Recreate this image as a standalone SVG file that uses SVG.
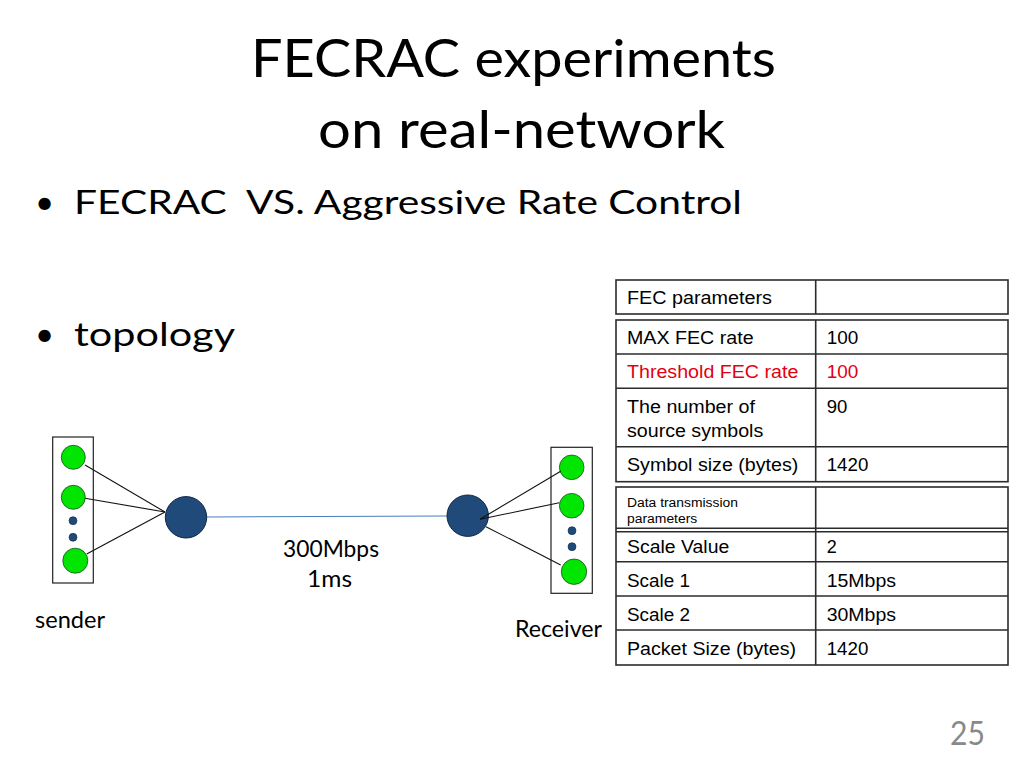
<svg xmlns="http://www.w3.org/2000/svg" width="1024" height="768" viewBox="0 0 1024 768">
<style>
.cal{font-family:Lato,"Open Sans","Liberation Sans",sans-serif;fill:#000}
.tb{font-family:"Liberation Sans",Arial,sans-serif;font-size:17.5px;fill:#000}
.red{fill:#e3000f}
.cell{fill:none;stroke:#2b2b2b;stroke-width:1.6}
.green{fill:#00e600;stroke:#1a4d1a;stroke-width:0.8}
.hub{fill:#1f4a7a;stroke:#0f2745;stroke-width:1}
.dot{fill:#1f4a7a;stroke:#0f2745;stroke-width:0.6}
.wire{stroke:#111;stroke-width:1.1;fill:none}
.box{fill:none;stroke:#222;stroke-width:1.2}
</style>
<rect width="1024" height="768" fill="#fff"/>
<g id="title">
<text class="cal" x="251" y="77" font-size="53" textLength="525" lengthAdjust="spacingAndGlyphs">FECRAC experiments</text>
<text class="cal" x="318" y="148" font-size="53" textLength="407" lengthAdjust="spacingAndGlyphs">on real-network</text>
</g>
<g id="bullets">
<text class="cal" x="35" y="214" font-size="33">•</text>
<text class="cal" x="74" y="214" font-size="33" textLength="668" lengthAdjust="spacingAndGlyphs" xml:space="preserve">FECRAC  VS. Aggressive Rate Control</text>
<text class="cal" x="35" y="346" font-size="33">•</text>
<text class="cal" x="74" y="346" font-size="33" textLength="161" lengthAdjust="spacingAndGlyphs">topology</text>
</g>
<g id="connectors">
<line x1="207" y1="517" x2="447" y2="516" stroke="#4a7ebb" stroke-width="1.1"/>
<line class="wire" x1="85" y1="465" x2="165" y2="512"/>
<line class="wire" x1="85" y1="498.3" x2="165" y2="512"/>
<line class="wire" x1="86.7" y1="554" x2="165" y2="512"/>
</g>
<g id="sender">
<rect class="box" x="52.7" y="437" width="40.6" height="146"/>
<circle class="green" cx="73.3" cy="457.3" r="12"/>
<circle class="green" cx="73.3" cy="497.3" r="12"/>
<circle class="dot" cx="73" cy="520.7" r="4"/>
<circle class="dot" cx="73" cy="537.3" r="4"/>
<circle class="green" cx="75.3" cy="560.7" r="12.5"/>
<text class="cal" x="35" y="628.3" font-size="23" textLength="70" lengthAdjust="spacingAndGlyphs">sender</text>
</g>
<g id="sender-hub">
<circle class="hub" cx="186" cy="517.3" r="20.7"/>
</g>
<g id="receiver-hub">
<circle class="hub" cx="467.7" cy="515.7" r="20.7"/>
</g>
<g id="receiver">
<rect class="box" x="551" y="447.3" width="41.3" height="146"/>
<circle class="green" cx="571.7" cy="467.3" r="12.3"/>
<circle class="green" cx="571.7" cy="505.7" r="12.3"/>
<circle class="dot" cx="572" cy="530.7" r="4"/>
<circle class="dot" cx="572" cy="546.7" r="4"/>
<circle class="green" cx="574" cy="571.7" r="12.7"/>
<text class="cal" x="515" y="637" font-size="23" textLength="87" lengthAdjust="spacingAndGlyphs">Receiver</text>
</g>
<g id="receiver-wires">
<line class="wire" x1="480" y1="519.3" x2="560.7" y2="471.3"/>
<line class="wire" x1="480" y1="519.3" x2="559.3" y2="502.7"/>
<line class="wire" x1="486" y1="526.7" x2="560.7" y2="565"/>
</g>
<g id="link-label">
<text class="cal" x="283" y="557" font-size="23" textLength="96" lengthAdjust="spacingAndGlyphs">300Mbps</text>
<text class="cal" x="307" y="587" font-size="23" textLength="45" lengthAdjust="spacingAndGlyphs">1ms</text>
</g>
<g id="table-fec-header">
<rect class="cell" x="616" y="280" width="392" height="34"/>
<line class="cell" x1="815.7" y1="280" x2="815.7" y2="314"/>
<text class="tb" x="627" y="304.3" textLength="145" lengthAdjust="spacingAndGlyphs">FEC parameters</text>
</g>
<g id="table-fec">
<rect class="cell" x="616" y="320" width="392" height="161.7"/>
<line class="cell" x1="815.7" y1="320" x2="815.7" y2="481.7"/>
<line class="cell" x1="616" y1="354" x2="1008" y2="354"/>
<line class="cell" x1="616" y1="388.3" x2="1008" y2="388.3"/>
<line class="cell" x1="616" y1="446.7" x2="1008" y2="446.7"/>
<text class="tb" x="627" y="344" textLength="126.6" lengthAdjust="spacingAndGlyphs">MAX FEC rate</text>
<text class="tb" x="826.7" y="344" textLength="31.6" lengthAdjust="spacingAndGlyphs">100</text>
<text class="tb red" x="627" y="378.3" textLength="171.3" lengthAdjust="spacingAndGlyphs">Threshold FEC rate</text>
<text class="tb red" x="826.7" y="378.3" textLength="31.6" lengthAdjust="spacingAndGlyphs">100</text>
<text class="tb" x="627" y="413.3" textLength="128" lengthAdjust="spacingAndGlyphs">The number of</text>
<text class="tb" x="627" y="436.7" textLength="136.3" lengthAdjust="spacingAndGlyphs">source symbols</text>
<text class="tb" x="826.7" y="413.3" textLength="20.6" lengthAdjust="spacingAndGlyphs">90</text>
<text class="tb" x="627" y="471" textLength="171.3" lengthAdjust="spacingAndGlyphs">Symbol size (bytes)</text>
<text class="tb" x="826.7" y="471" textLength="41.6" lengthAdjust="spacingAndGlyphs">1420</text>
</g>
<g id="table-data">
<rect class="cell" x="616" y="487" width="392" height="178"/>
<line class="cell" x1="815.7" y1="487" x2="815.7" y2="665"/>
<line class="cell" x1="616" y1="528.3" x2="1008" y2="528.3"/>
<line class="cell" x1="616" y1="531.7" x2="1008" y2="531.7"/>
<line class="cell" x1="616" y1="561.7" x2="1008" y2="561.7"/>
<line class="cell" x1="616" y1="596" x2="1008" y2="596"/>
<line class="cell" x1="616" y1="630" x2="1008" y2="630"/>
<text class="tb" x="627" y="506.7" style="font-size:12.5px" textLength="111" lengthAdjust="spacingAndGlyphs">Data transmission</text>
<text class="tb" x="627" y="523.3" style="font-size:12.5px" textLength="70.3" lengthAdjust="spacingAndGlyphs">parameters</text>
<text class="tb" x="627" y="552.7" textLength="102.3" lengthAdjust="spacingAndGlyphs">Scale Value</text>
<text class="tb" x="826.7" y="552.7" textLength="10" lengthAdjust="spacingAndGlyphs">2</text>
<text class="tb" x="627" y="586.7" textLength="63" lengthAdjust="spacingAndGlyphs">Scale 1</text>
<text class="tb" x="826.7" y="586.7" textLength="69.3" lengthAdjust="spacingAndGlyphs">15Mbps</text>
<text class="tb" x="627" y="620.7" textLength="63" lengthAdjust="spacingAndGlyphs">Scale 2</text>
<text class="tb" x="826.7" y="620.7" textLength="69.3" lengthAdjust="spacingAndGlyphs">30Mbps</text>
<text class="tb" x="627" y="655" textLength="169" lengthAdjust="spacingAndGlyphs">Packet Size (bytes)</text>
<text class="tb" x="826.7" y="655" textLength="41.6" lengthAdjust="spacingAndGlyphs">1420</text>
</g>
<g id="page-number">
<text class="cal" x="950" y="745" font-size="33" style="fill:#898989" textLength="35" lengthAdjust="spacingAndGlyphs">25</text>
</g>
</svg>
